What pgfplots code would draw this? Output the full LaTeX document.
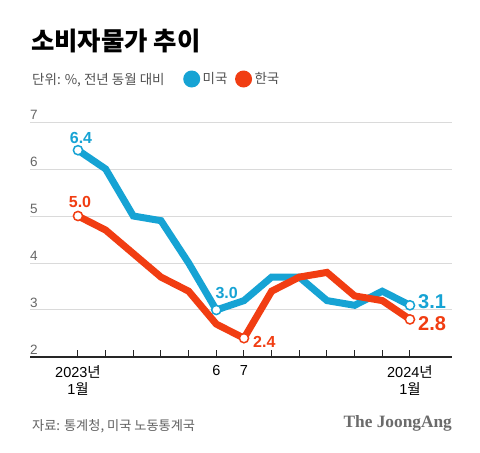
\documentclass[border=0pt]{standalone}
\usepackage{pgfplots}
\pgfplotsset{compat=1.18}
\usepackage{fontspec}
\setmainfont{Liberation Sans}
\newfontfamily\kr{Noto Sans CJK KR}
\newfontfamily\krblack{Noto Sans CJK KR Black}
\newfontfamily\jserif{Liberation Serif}
\definecolor{usblue}{RGB}{22,163,212}
\definecolor{krred}{RGB}{241,61,18}
\definecolor{gridgray}{RGB}{218,218,218}
\begin{document}
\begin{tikzpicture}[x=1pt,y=1pt]
\path[use as bounding box, fill=white] (0,0) rectangle (480,453);
\node[anchor=base west, inner sep=0] at (31,402) {\krblack\fontsize{25.4}{30}\selectfont 소비자물가 추이};
\node[anchor=base west, inner sep=0, text=black!68] at (32,368) {\kr\fontsize{13.5}{16}\selectfont 단위: \%, 전년 동월 대비};
\begin{axis}[
  at={(30pt,96pt)}, anchor=south west, scale only axis,
  width=422pt, height=235pt,
  xmin=-1.735, xmax=13.52, ymin=2, ymax=7,
  axis x line*=bottom, axis y line*=left,
  y axis line style={draw=none},
  x axis line style={-, line width=1.2pt, draw=black!85},
  xtick={0,...,12},
  xticklabels={{2023{\kr 년}\\1{\kr 월}},,,,,6,7,,,,,,{2024{\kr 년}\\1{\kr 월}}},
  xticklabel style={font=\fontsize{14.5}{16.5}\selectfont, align=center, text=black, yshift=-5pt},
  major tick length=7pt, tick align=inside,
  x tick style={line width=1pt, draw=black!85},
  ytick={2,3,4,5,6,7},
  y tick style={draw=none},
  ymajorgrids, grid style={line width=1pt, gridgray},
  /pgf/number format/assume math mode=true,
  yticklabel style={anchor=south west, font=\fontsize{13.5}{14}\selectfont, text=black!60, inner sep=0pt, yshift=2pt},
  legend style={at={(axis description cs:0.3626,1.183)}, anchor=west, draw=none, fill=none,
    inner sep=0pt, legend columns=-1, font=\kr\fontsize{13.5}{16}\selectfont, text=black!68,
    nodes={inner sep=2.5pt},
    /tikz/every even column/.append style={column sep=5pt}},
  clip=false,
]
\addplot[usblue, line width=7pt, line join=miter, mark=*, mark indices={1,6,13},
  mark options={fill=white, draw=usblue, line width=1.5pt, mark size=4.6pt},
  legend image code/.code={\path[fill=usblue, draw=none] (0pt,0pt) circle (8.5pt);}]
  coordinates {(0,6.4)(1,6.0)(2,5.0)(3,4.9)(4,4.0)(5,3.0)(6,3.2)(7,3.7)(8,3.7)(9,3.2)(10,3.1)(11,3.4)(12,3.1)};
\addlegendentry{미국}
\addplot[krred, line width=7pt, line join=miter, mark=*, mark indices={1,7,13},
  mark options={fill=white, draw=krred, line width=1.5pt, mark size=4.6pt},
  legend image code/.code={\path[fill=krred, draw=none] (0pt,0pt) circle (8.5pt);}]
  coordinates {(0,5.0)(1,4.7)(2,4.2)(3,3.7)(4,3.4)(5,2.7)(6,2.4)(7,3.4)(8,3.7)(9,3.8)(10,3.3)(11,3.2)(12,2.8)};
\addlegendentry{한국}
\node[anchor=base, inner sep=0, text=usblue, font=\bfseries\fontsize{16}{18}\selectfont, xshift=3pt, yshift=7pt] at (axis cs:0,6.4) {6.4};
\node[anchor=base, inner sep=0, text=krred, font=\bfseries\fontsize{16}{18}\selectfont, xshift=2pt, yshift=9pt] at (axis cs:0,5.0) {5.0};
\node[anchor=base west, inner sep=0, text=usblue, font=\bfseries\fontsize{16}{18}\selectfont, xshift=-1pt, yshift=11pt] at (axis cs:5,3.0) {3.0};
\node[anchor=base west, inner sep=0, text=krred, font=\bfseries\fontsize{16}{18}\selectfont, xshift=9pt, yshift=-9pt] at (axis cs:6,2.4) {2.4};
\node[anchor=base west, inner sep=0, text=usblue, font=\bfseries\fontsize{20}{22}\selectfont, xshift=8pt, yshift=-3pt] at (axis cs:12,3.1) {3.1};
\node[anchor=base west, inner sep=0, text=krred, font=\bfseries\fontsize{20}{22}\selectfont, xshift=8pt, yshift=-11.5pt] at (axis cs:12,2.8) {2.8};
\end{axis}
\node[anchor=base west, inner sep=0, text=black!62] at (32,22) {\kr\fontsize{13.2}{16}\selectfont 자료: 통계청, 미국 노동통계국};
\node[anchor=base east, inner sep=0, text=black!58] at (452,25) {\jserif\bfseries\fontsize{17.3}{19}\selectfont The JoongAng};
\end{tikzpicture}
\end{document}
